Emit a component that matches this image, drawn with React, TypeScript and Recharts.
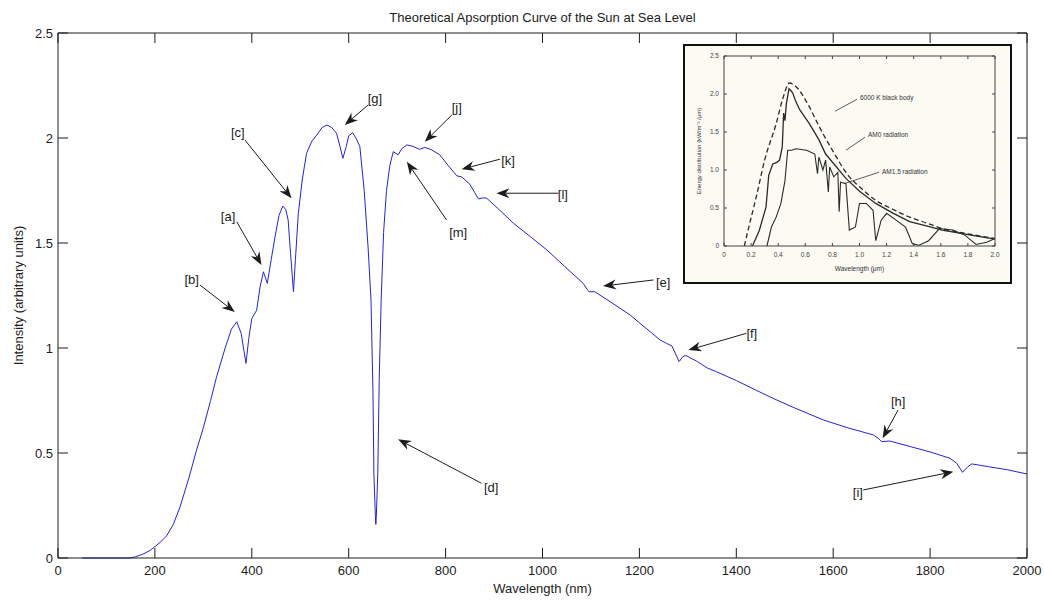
import React from 'react';
import { LineChart, Line, XAxis, YAxis, ReferenceLine, ReferenceDot, Label } from 'recharts';

// main spectrum, wavelength in nm
const wavelengthNm = [
  50, 100, 150, 160, 175, 190, 200, 212, 224, 238, 252, 270, 286, 300, 315, 327, 345, 358, 369, 378,
  388, 394, 400, 410, 417, 424, 432, 440, 448, 456, 464, 470, 475, 480, 486, 490, 496, 504, 513, 524,
  534, 545, 555, 565, 575, 582, 588, 595, 600, 608, 615, 623, 632, 640, 646, 650, 652, 655, 656, 657,
  660, 663, 667, 672, 678, 685, 692, 702, 710, 720, 733, 746, 757, 770, 788, 805, 823, 833, 850, 860,
  868, 878, 885, 910, 940, 975, 1009, 1045, 1084, 1092, 1096, 1108, 1140, 1181, 1201, 1243, 1256, 1267, 1275, 1282,
  1290, 1296, 1320, 1340, 1359, 1400, 1440, 1476, 1520, 1580, 1630, 1683, 1693, 1700, 1717, 1760, 1800, 1841, 1855, 1867,
  1878, 1886, 1920, 1960, 2000,
];
const intensity = [
  0, 0, 0, 0.006, 0.018, 0.036, 0.054, 0.077, 0.105, 0.16, 0.244, 0.38, 0.514, 0.62, 0.75, 0.86, 1.0, 1.09, 1.125, 1.07,
  0.927, 1.05, 1.14, 1.18, 1.29, 1.363, 1.308, 1.42, 1.53, 1.63, 1.676, 1.66, 1.61, 1.45, 1.268, 1.42, 1.64, 1.8, 1.927, 1.985,
  2.014, 2.05, 2.062, 2.05, 2.022, 1.96, 1.903, 1.96, 2.01, 2.025, 2.0, 1.959, 1.75, 1.48, 1.23, 0.8, 0.4, 0.2, 0.16, 0.2,
  0.4, 0.85, 1.23, 1.55, 1.75, 1.87, 1.935, 1.92, 1.95, 1.967, 1.96, 1.946, 1.955, 1.945, 1.92, 1.87, 1.82, 1.815, 1.78, 1.74,
  1.71, 1.715, 1.713, 1.66, 1.594, 1.53, 1.467, 1.39, 1.308, 1.28, 1.268, 1.268, 1.22, 1.157, 1.118, 1.038, 1.022, 1.01, 0.97, 0.935,
  0.96, 0.964, 0.935, 0.905, 0.887, 0.845, 0.8, 0.76, 0.715, 0.657, 0.62, 0.586, 0.57, 0.554, 0.557, 0.53, 0.505, 0.475, 0.451, 0.408,
  0.435, 0.448, 0.435, 0.42, 0.4,
];
const xTicks = [0, 200, 400, 600, 800, 1000, 1200, 1400, 1600, 1800, 2000];
const yTicks = [0, 0.5, 1, 1.5, 2, 2.5];

// annotations: label, label position, arrow start, arrow tip (data units)
const noteLabels = ['[b]', '[a]', '[c]', '[g]', '[j]', '[k]', '[m]', '[l]', '[e]', '[f]', '[h]', '[i]', '[d]'];
const noteLabelAt = [
  [276, 1.324], [351, 1.624], [371, 2.024], [654, 2.19], [823, 2.143], [929, 1.895], [826, 1.552],
  [1042, 1.729], [1249, 1.314], [1432, 1.071], [1734, 0.743], [1651, 0.314], [894, 0.338],
];
const noteFrom = [
  [293, 1.3], [369, 1.601], [386, 1.99], [640, 2.157], [813, 2.11], [912, 1.899], [802, 1.61],
  [1033, 1.737], [1229, 1.324], [1421, 1.07], [1734, 0.705], [1662, 0.324], [874, 0.356],
];
const noteTip = [
  [365, 1.171], [420, 1.395], [482, 1.713], [592, 2.062], [757, 1.982], [833, 1.851], [720, 1.887],
  [905, 1.737], [1125, 1.295], [1301, 0.99], [1702, 0.57], [1848, 0.411], [702, 0.565],
];

// inset (textbook figure), wavelength in um
const blackBodyX = [0.15, 0.19, 0.238, 0.3, 0.385, 0.434, 0.483, 0.53, 0.63, 0.7, 0.8, 0.925, 1.0, 1.12, 1.25, 1.37, 1.5, 1.61, 1.8, 2.0];
const blackBodyY = [0, 0.3, 0.645, 1.13, 1.61, 1.94, 2.145, 2.1, 1.83, 1.58, 1.26, 0.91, 0.78, 0.6, 0.48, 0.38, 0.3, 0.23, 0.16, 0.1];
const am0X = [0.21, 0.26, 0.31, 0.33, 0.36, 0.39, 0.41, 0.43, 0.44, 0.45, 0.46, 0.48, 0.5, 0.51, 0.53, 0.56, 0.58, 0.63, 0.7, 0.75, 0.9, 1.0, 1.12, 1.25, 1.37, 1.5, 1.61, 1.8, 2.0];
const am0Y = [0, 0.2, 0.51, 0.93, 1.08, 1.1, 1.13, 1.3, 1.75, 1.65, 1.87, 2.07, 2.03, 2.0, 1.9, 1.79, 1.74, 1.61, 1.4, 1.21, 0.89, 0.72, 0.56, 0.43, 0.32, 0.26, 0.21, 0.15, 0.09];
const am15X = [
  0.317, 0.35, 0.385, 0.42, 0.45, 0.47, 0.5, 0.53, 0.61, 0.67, 0.69, 0.7, 0.73, 0.75, 0.77, 0.78, 0.81, 0.84, 0.85, 0.86,
  0.9, 0.925, 0.97, 1.0, 1.05, 1.1, 1.12, 1.16, 1.2, 1.27, 1.34, 1.39, 1.44, 1.51, 1.59, 1.69, 1.78, 1.86, 1.94, 2.0,
];
const am15Y = [
  0, 0.25, 0.38, 0.56, 0.86, 1.26, 1.26, 1.28, 1.26, 1.21, 0.95, 1.17, 1.0, 1.13, 0.71, 1.04, 0.91, 0.97, 0.45, 0.84,
  0.82, 0.21, 0.25, 0.56, 0.56, 0.47, 0.07, 0.34, 0.43, 0.34, 0.25, 0.03, 0.01, 0.07, 0.23, 0.21, 0.14, 0.02, 0.05, 0.1,
];
const insetXTicks = [0, 0.2, 0.4, 0.6, 0.8, 1.0, 1.2, 1.4, 1.6, 1.8, 2.0];
const insetYTicks = [0, 0.5, 1.0, 1.5, 2.0, 2.5];
const insetLabels = ['6000 K black body', 'AM0 radiation', 'AM1.5 radiation'];
const insetLabelAt = [[1.003, 1.957], [1.063, 1.47], [1.166, 0.983]];
const insetLeadFrom = [[0.981, 1.93], [1.04, 1.43], [1.144, 0.97]];
const insetLeadTo = [[0.819, 1.773], [0.9, 1.26], [0.893, 0.825]];

const spectrum = wavelengthNm.map((w, i) => ({ w, v: intensity[i] }));
const zip = (xs: number[], ys: number[]) => xs.map((x, i) => ({ x, y: ys[i] }));

const INK = '#1c1c1c';
const FONT = '"Liberation Sans", Arial, sans-serif';

// tick labels only; the tick marks themselves are drawn inward by TickMarks below
type TickOpts = { side: 'b' | 'l'; size: number; fill: string; fmt?: (v: number) => string };
const tickText = (o: TickOpts) => (p: any) => {
  const v = p.payload?.value;
  const text = o.fmt ? o.fmt(v) : String(v);
  if (o.side === 'b') {
    return <text x={p.x} y={p.y} dy="0.71em" textAnchor="middle" fontSize={o.size} fill={o.fill}>{text}</text>;
  }
  return <text x={p.x} y={p.y} dy="0.355em" textAnchor="end" fontSize={o.size} fill={o.fill}>{text}</text>;
};

// inward matlab-style tick marks at both ends of a full-span reference line
const tickMarks = (len: number, stroke: string) => (p: any) => {
  const { x1, y1, x2, y2 } = p;
  if (x1 == null || y1 == null) return <g />;
  if (Math.abs(x1 - x2) < 0.5) {
    const top = Math.min(y1, y2);
    const bot = Math.max(y1, y2);
    return (
      <g>
        <line x1={x1} y1={bot} x2={x1} y2={bot - len} stroke={stroke} />
        <line x1={x1} y1={top} x2={x1} y2={top + len} stroke={stroke} />
      </g>
    );
  }
  const l = Math.min(x1, x2);
  const r = Math.max(x1, x2);
  return (
    <g>
      <line x1={l} y1={y1} x2={l + len} y2={y1} stroke={stroke} />
      <line x1={r} y1={y1} x2={r - len} y2={y1} stroke={stroke} />
    </g>
  );
};

function Arrow(props: any) {
  const { x1, y1, x2, y2 } = props;
  if (x1 == null || x2 == null) return <g />;
  const dx = x2 - x1;
  const dy = y2 - y1;
  const len = Math.hypot(dx, dy) || 1;
  const ux = dx / len;
  const uy = dy / len;
  const bx = x2 - ux * 13;
  const by = y2 - uy * 13;
  const nx = x2 - ux * 9;
  const ny = y2 - uy * 9;
  const px = -uy * 5;
  const py = ux * 5;
  return (
    <g>
      <line x1={x1} y1={y1} x2={nx} y2={ny} stroke={INK} strokeWidth={1} />
      <polygon points={`${x2},${y2} ${bx + px},${by + py} ${nx},${ny} ${bx - px},${by - py}`} fill={INK} />
    </g>
  );
}

const noteText = (text: string) => (p: any) => (
  <text x={p.cx} y={p.cy} textAnchor="middle" dominantBaseline="central" fontSize={13} fill={INK} fontFamily={FONT}>
    {text}
  </text>
);

const insetText = (text: string) => (p: any) => (
  <text x={p.cx} y={p.cy} dominantBaseline="central" fontSize={6.5} fill="#333" fontFamily={FONT}>
    {text}
  </text>
);

const fmt1 = (v: number) => (v === 0 ? '0' : v.toFixed(1));

function Inset() {
  const st = '#444';
  return (
    <div
      style={{
        position: 'absolute', left: 683, top: 44, width: 329, height: 240, boxSizing: 'border-box',
        border: '2px solid #111', background: '#fbfaf3',
      }}
    >
      <LineChart width={325} height={236} margin={{ top: 0, right: 0, bottom: 0, left: 0 }}>
        <XAxis xAxisId="b" dataKey="x" type="number" domain={[0, 2]} ticks={insetXTicks} height={36}
          tickSize={0} tickLine={false} tickMargin={6} stroke={st} allowDataOverflow
          tick={tickText({ side: 'b', size: 6.5, fill: st, fmt: fmt1 })}
          label={<Label content={(p: any) => {
            const vb = p.viewBox || { x: 39, width: 271, y: 200 };
            return <text x={vb.x + vb.width / 2} y={vb.y + 25} textAnchor="middle" fontSize={6.5} fill="#333">Wavelength (μm)</text>;
          }} />} />
        <XAxis xAxisId="t" orientation="top" type="number" domain={[0, 2]} ticks={insetXTicks} height={10}
          tickLine={false} tick={false} stroke={st} />
        <YAxis yAxisId="l" type="number" domain={[0, 2.5]} ticks={insetYTicks} width={39}
          tickSize={0} tickLine={false} tickMargin={5} stroke={st}
          tick={tickText({ side: 'l', size: 6.5, fill: st, fmt: fmt1 })}
          label={<Label content={(p: any) => {
            const vb = p.viewBox || { y: 10, height: 190 };
            const cy = vb.y + vb.height / 2;
            return <text x={14} y={cy} transform={`rotate(-90 14 ${cy})`} textAnchor="middle" dominantBaseline="central" fontSize={6} fill="#333">Energy distribution (kW/m⁻² /μm)</text>;
          }} />} />
        <YAxis yAxisId="r" orientation="right" type="number" domain={[0, 2.5]} ticks={insetYTicks} width={15}
          tickLine={false} tick={false} stroke={st} />
        {insetXTicks.map((t) => (
          <ReferenceLine key={'ix' + t} xAxisId="b" yAxisId="l" x={t} shape={tickMarks(3, st)} />
        ))}
        {insetYTicks.map((t) => (
          <ReferenceLine key={'iy' + t} xAxisId="b" yAxisId="l" y={t} shape={tickMarks(3, st)} />
        ))}
        <Line xAxisId="b" yAxisId="l" data={zip(blackBodyX, blackBodyY)} dataKey="y" type="monotone" dot={false}
          stroke="#2a2a2a" strokeWidth={1.3} strokeDasharray="5 3" isAnimationActive={false} />
        <Line xAxisId="b" yAxisId="l" data={zip(am0X, am0Y)} dataKey="y" type="linear" dot={false}
          stroke="#2a2a2a" strokeWidth={1.3} isAnimationActive={false} />
        <Line xAxisId="b" yAxisId="l" data={zip(am15X, am15Y)} dataKey="y" type="linear" dot={false}
          stroke="#2a2a2a" strokeWidth={1.1} isAnimationActive={false} />
        {insetLabels.map((t, i) => (
          <ReferenceLine key={'il' + i} xAxisId="b" yAxisId="l" stroke="#333" strokeWidth={0.8}
            segment={[{ x: insetLeadFrom[i][0], y: insetLeadFrom[i][1] }, { x: insetLeadTo[i][0], y: insetLeadTo[i][1] }]} />
        ))}
        {insetLabels.map((t, i) => (
          <ReferenceDot key={'it' + i} xAxisId="b" yAxisId="l" x={insetLabelAt[i][0]} y={insetLabelAt[i][1]} r={0}
            shape={insetText(t)} />
        ))}
      </LineChart>
    </div>
  );
}

export default function App() {
  return (
    <div style={{ position: 'absolute', left: 0, top: 0, width: 1044, height: 602, background: '#fff', fontFamily: FONT }}>
      <LineChart width={1044} height={602} data={spectrum} margin={{ top: 3, right: 0, bottom: 0, left: 0 }}>
        <XAxis xAxisId="b" dataKey="w" type="number" domain={[0, 2000]} ticks={xTicks} height={44}
          tickSize={0} tickLine={false} tickMargin={8} stroke={INK}
          tick={tickText({ side: 'b', size: 13, fill: INK })}
          label={<Label content={(p: any) => {
            const vb = p.viewBox || { x: 58, width: 969, y: 558 };
            return <text x={vb.x + vb.width / 2} y={vb.y + 30} textAnchor="middle" dominantBaseline="central" fontSize={13} fill={INK}>Wavelength (nm)</text>;
          }} />} />
        <XAxis xAxisId="t" orientation="top" type="number" domain={[0, 2000]} ticks={xTicks} height={30}
          tickLine={false} tick={false} stroke={INK}
          label={<Label content={(p: any) => {
            const vb = p.viewBox || { x: 58, width: 969, y: 3 };
            return <text x={vb.x + vb.width / 2} y={17} textAnchor="middle" dominantBaseline="central" fontSize={13} fill={INK}>Theoretical Apsorption Curve of the Sun at Sea Level</text>;
          }} />} />
        <YAxis yAxisId="l" type="number" domain={[0, 2.5]} ticks={yTicks} width={58}
          tickSize={0} tickLine={false} tickMargin={5} stroke={INK}
          tick={tickText({ side: 'l', size: 13, fill: INK })}
          label={<Label content={(p: any) => {
            const vb = p.viewBox || { y: 33, height: 525 };
            const cy = vb.y + vb.height / 2;
            return <text x={18} y={cy} transform={`rotate(-90 18 ${cy})`} textAnchor="middle" dominantBaseline="central" fontSize={13} fill={INK}>Intensity (arbitrary units)</text>;
          }} />} />
        <YAxis yAxisId="r" orientation="right" type="number" domain={[0, 2.5]} ticks={yTicks} width={17}
          tickLine={false} tick={false} stroke={INK} />
        {xTicks.map((t) => (
          <ReferenceLine key={'x' + t} xAxisId="b" yAxisId="l" x={t} shape={tickMarks(10, INK)} />
        ))}
        {yTicks.map((t) => (
          <ReferenceLine key={'y' + t} xAxisId="b" yAxisId="l" y={t} shape={tickMarks(10, INK)} />
        ))}
        <Line xAxisId="b" yAxisId="l" dataKey="v" type="linear" dot={false} stroke="#2424d6" strokeWidth={1}
          isAnimationActive={false} />
        {noteLabels.map((t, i) => (
          <ReferenceLine key={'a' + i} xAxisId="b" yAxisId="l" ifOverflow="visible"
            segment={[{ x: noteFrom[i][0], y: noteFrom[i][1] }, { x: noteTip[i][0], y: noteTip[i][1] }]}
            shape={Arrow} />
        ))}
        {noteLabels.map((t, i) => (
          <ReferenceDot key={'t' + i} xAxisId="b" yAxisId="l" x={noteLabelAt[i][0]} y={noteLabelAt[i][1]} r={0}
            ifOverflow="visible" shape={noteText(t)} />
        ))}
      </LineChart>
      <Inset />
    </div>
  );
}
